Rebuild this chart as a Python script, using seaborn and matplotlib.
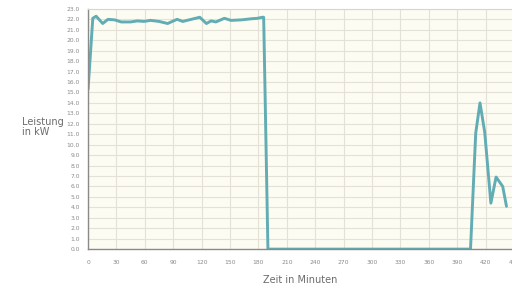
import numpy as np
import pandas as pd
import matplotlib
matplotlib.use("Agg")
import matplotlib.pyplot as plt
import seaborn as sns

minutes = [0, 5, 8.5, 15.5, 21, 28, 35, 45, 52, 59, 66, 75, 84, 94, 100, 109,
           118, 125, 130, 135, 144, 151, 162, 172, 179, 184, 185.5, 190,
           404, 409.5, 414, 419, 425.5, 431, 438, 442]
power_kw = [15.3, 22.1, 22.3, 21.6, 22.0, 21.95, 21.75, 21.75, 21.85, 21.8, 21.9, 21.8,
            21.6, 22.0, 21.8, 22.0, 22.2, 21.6, 21.85, 21.75, 22.1, 21.9, 21.95,
            22.05, 22.1, 22.2, 22.2, 0.0,
            0.0, 11.1, 14.0, 11.2, 4.4, 6.9, 6.0, 4.1]

x_ticks = list(range(0, 480, 30))
y_ticks = np.arange(0, 24, 1.0)

df = pd.DataFrame({"Zeit": minutes, "Leistung": power_kw})

sns.set_style("white")
plt.rcParams['font.family'] = ['DejaVu Sans']

fig = plt.figure(figsize=(5.12, 2.87), dpi=100)
# the chart is cut off on the right, as in the screenshot
ax = fig.add_axes([0.172, 0.132, 0.869, 0.837])
ax.set_facecolor("#fdfcf3")

sns.lineplot(data=df, x="Zeit", y="Leistung", ax=ax, color="#62acb3",
             linewidth=2.1, sort=False)

ax.set_xlim(0, 470)
ax.set_ylim(0, 23)
ax.set_xticks(x_ticks)
ax.set_yticks(y_ticks)
ax.set_yticklabels([f"{v:.1f}" for v in y_ticks])
ax.grid(True, color="#e4e1d6", linewidth=0.8)
ax.tick_params(axis="both", labelsize=4.3, colors="#8a8a8a", length=2.5, width=0.6)
ax.tick_params(axis="x", pad=5)
for side in ["left", "bottom"]:
    ax.spines[side].set_color("#8a8a8a")
    ax.spines[side].set_linewidth(1.0)
for side in ["top", "right"]:
    ax.spines[side].set_color("#d8d5cb")
    ax.spines[side].set_linewidth(0.8)

ax.set_xlabel("")
ax.set_ylabel("")
fig.text(300 / 512, 1 - 280 / 287, "Zeit in Minuten", ha="center", va="center",
         fontsize=7, color="#6b6b6b")
fig.text(22 / 512, 1 - 127 / 287, "Leistung\nin kW", ha="left", va="center",
         fontsize=7, color="#6b6b6b", linespacing=1.0)

fig.savefig("out.png", dpi=100)
